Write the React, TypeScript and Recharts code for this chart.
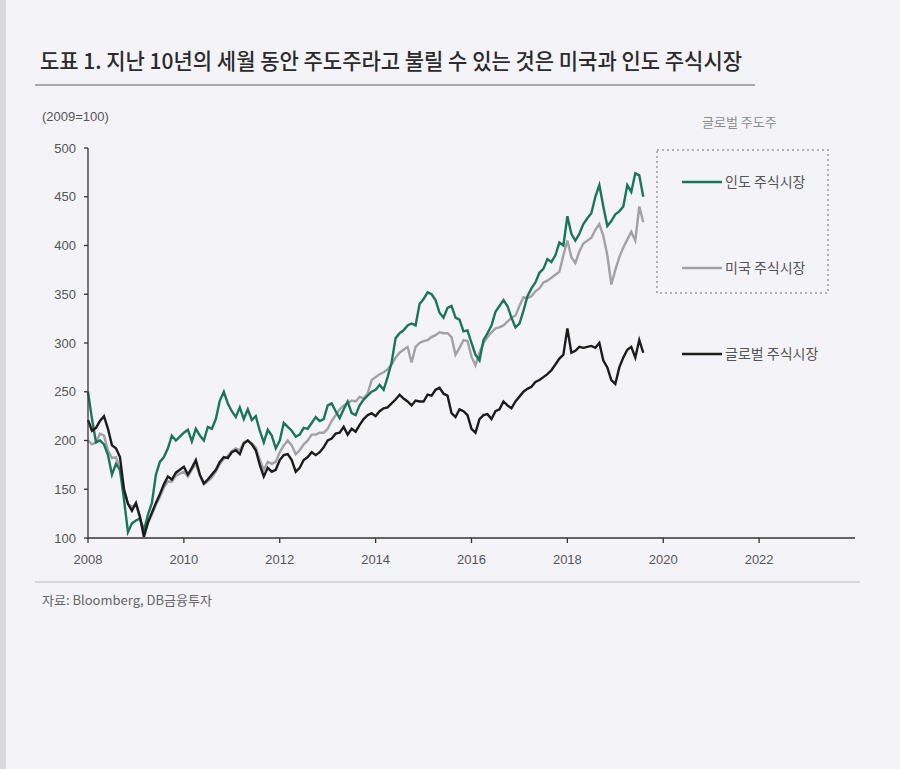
import { LineChart, Line, XAxis, YAxis } from 'recharts'

// monthly index values (2009 = 100), Jan 2008 .. Aug 2019
const START_YEAR = 2008

const india = [
  250, 222, 198, 200, 196, 185, 165, 176, 170, 140, 106, 115,
  118, 120, 108, 124, 136, 165, 178, 183, 192, 205, 200, 204,
  208, 211, 199, 212, 205, 200, 214, 212, 222, 241, 250, 238,
  230, 224, 234, 222, 232, 221, 225, 210, 198, 211, 205, 192,
  200, 218, 214, 210, 204, 206, 213, 212, 218, 224, 220, 222,
  236, 238, 230, 223, 232, 240, 228, 226, 236, 242, 246, 250,
  252, 257, 252, 265, 280, 305, 310, 313, 318, 320, 318, 340,
  345, 352, 350, 344, 331, 326, 336, 338, 326, 324, 312, 313,
  300, 288, 282, 303, 310, 318, 332, 338, 344, 338, 326, 316,
  320, 333, 348, 356, 362, 372, 376, 386, 383, 390, 403, 400,
  430, 412, 405, 412, 422, 428, 433, 450, 462, 440, 420, 425,
  432, 435, 440, 462, 455, 474, 472, 450,
]

const usa = [
  200, 196, 198, 207, 205, 190, 182, 183, 170, 150, 135, 132,
  135, 120, 104, 115, 124, 134, 142, 152, 158, 158, 164, 166,
  168, 163, 170, 176, 164, 155, 158, 162, 168, 176, 181, 184,
  189, 192, 190, 198, 200, 197, 193, 180, 170, 178, 176, 178,
  188, 195, 200, 195, 186, 190, 196, 200, 206, 206, 208, 208,
  212, 220, 226, 232, 236, 238, 241, 240, 245, 243, 248, 262,
  265, 268, 270, 273, 278, 285, 290, 293, 296, 280, 296, 300,
  302, 303, 306, 308, 311, 310, 310, 306, 288, 295, 303, 302,
  286, 277, 290, 300, 306, 311, 315, 316, 318, 322, 326, 328,
  338, 347, 346, 348, 353, 356, 362, 364, 367, 370, 373, 390,
  405, 388, 382, 394, 402, 405, 408, 416, 422, 410, 390, 360,
  375, 388, 398, 406, 414, 405, 440, 424,
]

const world = [
  221, 210, 213, 220, 225, 212, 195, 192, 183, 150, 135, 128,
  136, 122, 101, 116, 126, 136, 145, 155, 163, 160, 167, 170,
  173, 165, 172, 180, 165, 156, 160, 165, 170, 178, 183, 182,
  188, 190, 186, 197, 200, 196, 190, 175, 163, 172, 168, 170,
  180, 185, 186, 180, 168, 172, 180, 183, 188, 185, 188, 193,
  200, 202, 207, 208, 214, 206, 212, 209, 216, 222, 226, 228,
  225, 230, 233, 234, 238, 242, 247, 243, 240, 236, 241, 240,
  240, 247, 246, 252, 254, 248, 246, 228, 224, 232, 230, 226,
  212, 208, 222, 226, 227, 222, 230, 232, 240, 236, 233, 240,
  245, 250, 253, 255, 260, 262, 265, 268, 272, 278, 284, 288,
  315, 290, 292, 296, 295, 296, 297, 295, 300, 282, 275, 262,
  258, 275, 285, 293, 296, 285, 303, 290,
]

const xTicks = [2008, 2010, 2012, 2014, 2016, 2018, 2020, 2022]
const yTicks = [100, 150, 200, 250, 300, 350, 400, 450, 500]

const GREEN = '#1b7558'
const GRAY = '#a2a2a6'
const BLACK = '#1c1c1c'

const data = india.map((v, i) => ({
  t: START_YEAR + i / 12,
  india: v,
  usa: usa[i],
  world: world[i],
}))

const numFont = "'Liberation Sans Narrow', 'Liberation Sans', sans-serif"
const krFont = "'Noto Sans CJK KR', 'Noto Sans', sans-serif"

export default function App() {
  return (
    <div
      style={{
        position: 'absolute',
        left: 0,
        top: 0,
        width: 900,
        height: 769,
        background: '#f4f4f8',
        overflow: 'hidden',
      }}
    >
      <svg width={900} height={769} style={{ position: 'absolute', left: 0, top: 0 }}>
        <rect x={0} y={0} width={6} height={769} fill="#d9d9dd" />
        <text
          x={40}
          y={69}
          fontFamily={krFont}
          fontSize={22}
          fontWeight={500}
          fill="#2b2b2b"
          textLength={702}
          lengthAdjust="spacingAndGlyphs"
        >
          도표 1. 지난 10년의 세월 동안 주도주라고 불릴 수 있는 것은 미국과 인도 주식시장
        </text>
        <line x1={35} x2={755} y1={85} y2={85} stroke="#a9a9ad" strokeWidth={2} />
        <text x={42} y={121} fontFamily={numFont} fontSize={13} fill="#555">
          (2009=100)
        </text>
        <line x1={35} x2={860} y1={582} y2={582} stroke="#cfcfd3" strokeWidth={1.5} />
        <text x={42} y={605} fontFamily={krFont} fontSize={13} fill="#666" textLength={170} lengthAdjust="spacingAndGlyphs">
          자료: Bloomberg, DB금융투자
        </text>

        {/* legend */}
        <text x={702} y={127} fontFamily={krFont} fontSize={13} fill="#8a8a8e">
          글로벌 주도주
        </text>
        <rect
          x={657}
          y={150}
          width={171}
          height={143}
          fill="none"
          stroke="#9a9a9e"
          strokeWidth={1.5}
          strokeDasharray="2 3"
        />
        <line x1={682} x2={722} y1={182} y2={182} stroke={GREEN} strokeWidth={2.5} />
        <text x={725} y={187} fontFamily={krFont} fontSize={14} fill="#555">
          인도 주식시장
        </text>
        <line x1={682} x2={722} y1={268} y2={268} stroke={GRAY} strokeWidth={2.5} />
        <text x={725} y={273} fontFamily={krFont} fontSize={14} fill="#555">
          미국 주식시장
        </text>
        <line x1={682} x2={722} y1={354} y2={354} stroke={BLACK} strokeWidth={2.5} />
        <text x={725} y={359} fontFamily={krFont} fontSize={14} fill="#555">
          글로벌 주식시장
        </text>
      </svg>

      <div style={{ position: 'absolute', left: 0, top: 0 }}>
        <LineChart
          width={900}
          height={769}
          data={data}
          margin={{ top: 148, right: 45, bottom: 201, left: 38 }}
        >
          <XAxis
            dataKey="t"
            type="number"
            domain={[2008, 2024]}
            ticks={xTicks}
            height={30}
            tickSize={5}
            tickMargin={12}
            axisLine={{ stroke: '#333', strokeWidth: 1.3 }}
            tickLine={{ stroke: '#333', strokeWidth: 1.3 }}
            tick={{ fontSize: 13, fill: '#555', fontFamily: numFont }}
            interval={0}
          />
          <YAxis
            type="number"
            domain={[100, 500]}
            ticks={yTicks}
            width={50}
            tickSize={4}
            tickMargin={8}
            axisLine={{ stroke: '#333', strokeWidth: 1.3 }}
            tickLine={{ stroke: '#333', strokeWidth: 1.3 }}
            tick={{ fontSize: 13, fill: '#555', fontFamily: numFont }}
            interval={0}
          />
          <Line
            type="linear"
            dataKey="usa"
            stroke={GRAY}
            strokeWidth={2.4}
            dot={false}
            isAnimationActive={false}
          />
          <Line
            type="linear"
            dataKey="india"
            stroke={GREEN}
            strokeWidth={2.4}
            dot={false}
            isAnimationActive={false}
          />
          <Line
            type="linear"
            dataKey="world"
            stroke={BLACK}
            strokeWidth={2.4}
            dot={false}
            isAnimationActive={false}
          />
        </LineChart>
      </div>
    </div>
  )
}
